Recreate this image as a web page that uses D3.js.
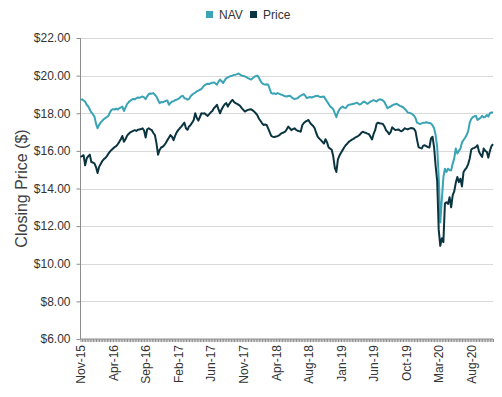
<!DOCTYPE html>
<html>
<head>
<meta charset="utf-8">
<script src="https://cdn.jsdelivr.net/npm/d3@7"></script>
<style>
  html, body { margin: 0; padding: 0; background: #fff; }
  svg { display: block; font-family: "Liberation Sans", Arial, sans-serif; }
</style>
</head>
<body>
<svg id="chart" width="502" height="397"></svg>
<script>
// Weekly closing values, Nov-2015 .. Nov-2020
const nav = [
18.71,18.74,18.68,18.62,18.45,18.36,18.20,18.04,17.95,17.82,
17.45,17.20,17.38,17.50,17.60,17.68,17.74,17.80,17.86,18.05,
18.18,18.22,18.20,18.24,18.20,18.27,18.30,18.36,18.12,18.30,
18.48,18.58,18.66,18.72,18.76,18.74,18.80,18.84,18.82,18.86,
18.89,18.84,18.75,18.90,19.02,19.05,19.04,19.07,18.98,18.88,
18.70,18.54,18.60,18.58,18.62,18.66,18.68,18.45,18.55,18.62,
18.64,18.70,18.72,18.76,18.82,18.90,18.93,18.80,18.78,18.72,
18.76,18.90,18.98,19.05,19.10,19.16,19.20,19.25,19.29,19.40,
19.50,19.54,19.57,19.55,19.60,19.62,19.64,19.58,19.52,19.68,
19.79,19.70,19.61,19.75,19.87,19.90,19.95,19.98,20.00,20.04,
20.05,20.08,20.11,20.05,20.00,19.98,19.96,19.92,19.87,19.83,
19.79,19.86,19.93,19.97,20.00,19.90,19.72,19.61,19.55,19.52,
19.54,19.52,19.30,19.07,19.04,19.06,19.02,19.07,19.04,19.00,
18.98,18.94,18.90,18.89,18.92,18.93,18.86,18.80,18.75,18.78,
18.80,18.88,18.93,18.98,19.02,18.92,18.80,18.84,18.86,18.84,
18.86,18.90,18.92,18.93,18.88,18.86,18.88,18.89,18.75,18.62,
18.50,18.36,18.30,18.21,18.00,17.79,18.05,18.20,18.30,18.36,
18.30,18.27,18.38,18.45,18.46,18.48,18.50,18.52,18.56,18.52,
18.46,18.50,18.58,18.62,18.56,18.50,18.56,18.62,18.66,18.70,
18.66,18.62,18.70,18.74,18.72,18.68,18.60,18.42,18.27,18.32,
18.36,18.42,18.46,18.48,18.50,18.44,18.39,18.36,18.32,18.24,
18.15,18.04,18.02,18.00,17.95,17.88,17.75,17.50,17.46,17.43,
17.46,17.50,17.50,17.52,17.50,17.48,17.46,17.36,17.20,16.84,
16.21,14.60,12.20,13.40,14.60,15.05,14.88,15.05,14.98,14.96,
15.32,15.60,16.13,15.86,16.00,16.13,16.45,16.58,16.70,16.84,
17.05,17.50,17.70,17.79,17.84,17.86,17.64,17.70,17.76,17.86,
17.78,17.80,17.91,17.82,18.00,18.04,18.04
];
const price = [
15.68,15.72,15.77,15.23,15.60,15.72,15.80,15.41,15.38,15.34,
15.14,14.82,15.15,15.30,15.45,15.55,15.62,15.72,15.85,15.96,
16.05,16.13,16.20,16.25,16.35,16.48,16.62,16.79,16.48,16.62,
16.80,16.90,16.98,17.02,17.06,17.10,17.06,17.12,17.14,17.16,
17.20,17.08,16.71,17.15,17.20,17.14,17.10,16.95,16.84,16.40,
15.80,16.05,16.18,16.22,16.30,16.42,16.57,16.70,16.84,16.75,
16.57,16.80,16.98,17.10,17.20,17.29,17.40,17.50,17.20,17.12,
17.30,17.38,17.50,17.64,18.00,17.75,17.61,17.80,18.00,17.98,
18.00,17.92,17.86,17.95,18.05,18.12,18.27,18.35,18.45,18.20,
18.00,18.20,18.36,18.48,18.54,18.36,18.50,18.62,18.71,18.60,
18.54,18.50,18.45,18.38,18.27,18.18,18.09,18.14,18.18,18.20,
18.21,18.15,18.09,18.00,17.90,17.72,17.60,17.48,17.38,17.40,
17.38,17.20,17.00,16.80,16.75,16.74,16.76,16.78,16.82,16.90,
16.95,16.98,17.02,17.15,17.29,17.20,17.10,17.16,17.20,17.12,
17.07,17.05,17.02,17.36,17.48,17.55,17.60,17.64,17.50,17.40,
17.32,17.20,16.95,16.75,16.65,16.57,16.48,16.39,16.62,16.45,
16.18,16.12,16.06,15.70,15.10,14.88,15.55,15.75,15.90,16.04,
16.18,16.30,16.38,16.48,16.54,16.60,16.64,16.70,16.74,16.79,
16.85,16.95,17.02,16.98,16.96,16.92,16.89,16.75,16.61,16.90,
17.10,17.45,17.50,17.46,17.45,17.43,17.30,17.10,17.02,16.89,
17.00,17.25,17.18,17.11,17.12,17.14,17.08,17.04,17.10,17.20,
17.17,17.14,17.18,17.21,17.20,17.18,17.05,16.60,16.20,16.16,
16.13,16.28,16.30,16.25,16.20,16.18,16.66,16.75,16.20,15.20,
14.40,11.80,10.95,11.35,11.15,13.20,13.27,13.18,13.54,13.00,
13.63,13.85,14.30,14.61,14.34,14.52,14.11,14.88,15.00,15.11,
15.30,15.60,16.07,16.13,16.16,16.21,16.30,15.95,15.80,15.68,
16.13,16.00,15.95,15.64,16.00,16.25,16.36
];
const tickLabels = ["Nov-15","Apr-16","Sep-16","Feb-17","Jun-17","Nov-17","Apr-18",
                    "Aug-18","Jan-19","Jun-19","Oct-19","Mar-20","Aug-20"];
const labelEvery = 21;
const yTicks = [6, 8, 10, 12, 14, 16, 18, 20, 22];
const seriesNames = ["NAV", "Price"];
const seriesColors = ["#3aa4b5", "#0b3441"];

const svg = d3.select("#chart");
const plotL = 80.5, plotR = 493, plotT = 38, plotB = 339;

const x = d3.scaleLinear().domain([0, nav.length - 1]).range([plotL, plotR]);
const y = d3.scaleLinear().domain([6, 22]).range([plotB, plotT]);

// gridlines
svg.append("g").selectAll("line").data(yTicks.slice(1)).join("line")
  .attr("x1", plotL).attr("x2", plotR)
  .attr("y1", d => Math.round(y(d)) + 0.5).attr("y2", d => Math.round(y(d)) + 0.5)
  .attr("stroke", "#d9d9d9").attr("stroke-width", 1);

// y axis
const yAxis = d3.axisLeft(y).tickValues(yTicks).tickSize(4).tickPadding(6)
  .tickFormat(d => "$" + d3.format(".2f")(d));
const gy = svg.append("g").attr("transform", `translate(${plotL},0)`).call(yAxis);
gy.select(".domain").attr("stroke", "#8c8c8c").attr("d", `M0,${plotT}V${plotB}`);
gy.selectAll(".tick line").attr("stroke", "#8c8c8c");
gy.selectAll(".tick text").attr("fill", "#333").style("font-size", "12px")
  .style("font-family", "'Liberation Sans', Arial, sans-serif");

// x axis (category ticks at every weekly point)
const xAxis = d3.axisBottom(x).tickValues(d3.range(nav.length)).tickSize(3)
  .tickFormat(i => (i % labelEvery === 0 && tickLabels[i / labelEvery]) ? tickLabels[i / labelEvery] : "");
const gx = svg.append("g").attr("transform", `translate(0,${plotB})`).call(xAxis);
gx.select(".domain").attr("stroke", "#8c8c8c").attr("d", `M${plotL},0H${plotR}`);
gx.selectAll(".tick line").attr("stroke", "#8c8c8c");
gx.selectAll(".tick text")
  .attr("fill", "#333").style("font-size", "12px")
  .style("font-family", "'Liberation Sans', Arial, sans-serif")
  .attr("text-anchor", "end")
  .attr("transform", "rotate(-90)")
  .attr("x", -6).attr("y", 0).attr("dy", "0.35em");

// lines
const line = d3.line().x((d, i) => x(i)).y(d => y(d));
[nav, price].forEach((s, k) => {
  svg.append("path").datum(s)
    .attr("fill", "none").attr("stroke", seriesColors[k])
    .attr("stroke-width", 2).attr("stroke-linejoin", "round")
    .attr("d", line);
});

// y-axis title
svg.append("text")
  .attr("transform", `translate(27,${(plotT + plotB) / 2}) rotate(-90)`)
  .attr("text-anchor", "middle")
  .attr("fill", "#404040").style("font-size", "16px")
  .text("Closing Price ($)");

// legend
const legend = svg.append("g").attr("transform", "translate(206,8)");
const legX = [0, 44];
seriesNames.forEach((n, k) => {
  const g = legend.append("g").attr("transform", `translate(${legX[k]},0)`);
  g.append("rect").attr("x", 0).attr("y", 3).attr("width", 7).attr("height", 7)
    .attr("fill", seriesColors[k]);
  g.append("text").attr("x", 13).attr("y", 11)
    .attr("fill", "#333").style("font-size", "12px").text(n);
});
</script>
</body>
</html>
